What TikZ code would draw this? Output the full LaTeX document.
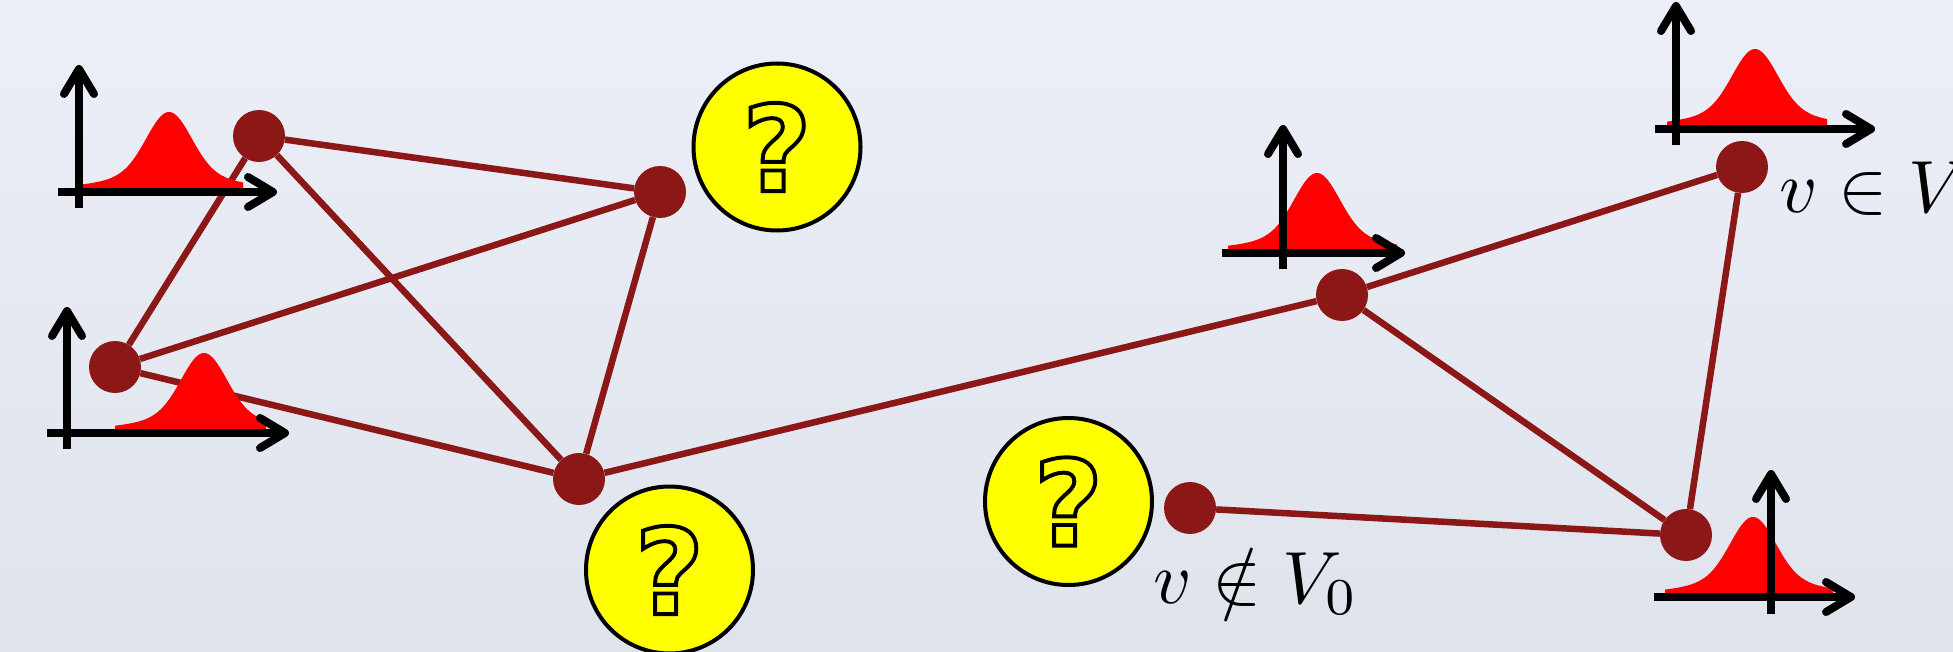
\documentclass[tikz,border=0pt]{standalone}
\usepackage{fontspec}
\newfontfamily\qfont{DejaVu Sans}[BoldFeatures={FakeBold=3.3}]
\usetikzlibrary{arrows.meta}
\definecolor{edgecol}{RGB}{139,23,23}
\definecolor{bgtop}{RGB}{236,239,247}
\definecolor{bgbot}{RGB}{223,227,235}
\definecolor{qyellow}{RGB}{255,255,0}
\definecolor{gred}{RGB}{255,0,0}
\newcommand{\qmark}{{\color{qyellow}\special{pdf:code 0 0 0 RG}?}}
% #1 origin x, #2 origin y, #3 x-axis left, #4 x tip, #5 y bottom, #6 y tip, #7 gauss centre, #8 domain start, #9 domain end
\newcommand{\dplot}[9]{%
  \fill[gred] ({#7+#8},#2) -- plot[domain=#8:#9,samples=90,smooth]
     ({#7+\x},{#2-4-60*exp(-\x*\x/968)-16*exp(-\x*\x/5000)}) -- ({#7+#9},#2) -- cycle;
  \draw[axisline] (#3,#2) -- (#4,#2);
  \draw[axisline] (#1,#5) -- (#1,#6);
  \draw[tipline] ({#4-25},{#2-15}) -- (#4,#2) -- ({#4-25},{#2+15});
  \draw[tipline] ({#1-15},{#6+25}) -- (#1,#6) -- ({#1+15},{#6+25});
}
\begin{document}
\begin{tikzpicture}[x=1pt,y=-1pt,
  vtx/.style={circle,fill=edgecol,minimum size=52pt,inner sep=0pt},
  edge/.style={draw=edgecol,line width=6.5pt},
  qcircle/.style={circle,draw=black,line width=4pt,fill=qyellow,minimum size=167pt,inner sep=0pt,
     font=\qfont\bfseries\fontsize{119}{121}\selectfont},
  axisline/.style={line width=8pt,draw=black},
  tipline/.style={line width=8pt,draw=black,line cap=round,line join=round},
  lab/.style={scale=7.4,transform shape,anchor=base west,inner sep=0pt}
]
\useasboundingbox (0,0) rectangle (1953,652);
\clip (0,0) rectangle (1953,652);
\shade[top color=bgtop,bottom color=bgbot] (0,0) rectangle (1953,652);

% vertices
\node[vtx] (A) at (259,136) {};
\node[vtx] (B) at (660,192) {};
\node[vtx] (C) at (115,367) {};
\node[vtx] (D) at (579,479) {};
\node[vtx] (E) at (1342,295) {};
\node[vtx] (F) at (1742,167) {};
\node[vtx] (G) at (1686,535) {};
\node[vtx] (H) at (1190,508) {};

% edges
\draw[edge] (A) -- (B);
\draw[edge] (A) -- (C);
\draw[edge] (A) -- (D);
\draw[edge] (B) -- (C);
\draw[edge] (B) -- (D);
\draw[edge] (C) -- (D);
\draw[edge] (D) -- (E);
\draw[edge] (E) -- (F);
\draw[edge] (E) -- (G);
\draw[edge] (F) -- (G);
\draw[edge] (H) -- (G);

% unknown-label circles
\node[qcircle] (Q1) at (777,147) {\qmark};
\node[qcircle] (Q2) at (669.5,570) {\qmark};
\node[qcircle] (Q3) at (1068.5,501.5) {\qmark};

% distributions
\dplot{79}{192}{58}{273}{208}{69}{169}{-86}{74}
\dplot{67}{433}{47}{285}{449}{311}{204}{-89}{62}
\dplot{1283}{253}{1222}{1401}{269}{129}{1317}{-89}{80}
\dplot{1676}{129}{1655}{1871}{145}{6}{1755}{-88}{72}
\dplot{1771}{597}{1654}{1851}{614}{474}{1753}{-88}{80}

% labels
\node[lab] (L1) at (1778,213) {$v \in V_0$};
\node[lab] (L2) at (1152,603) {$v \notin V_0$};
\end{tikzpicture}
\end{document}
